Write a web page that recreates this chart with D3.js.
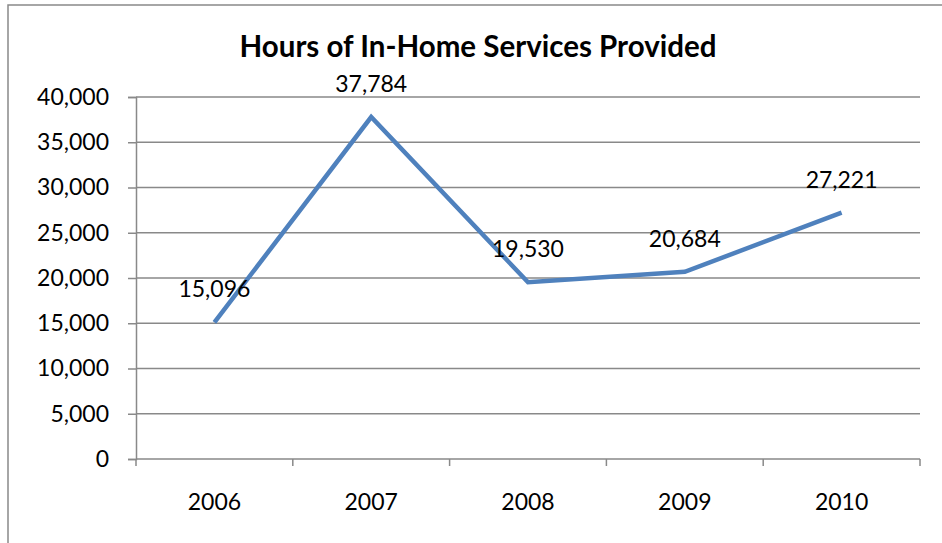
<!DOCTYPE html>
<html>
<head>
<meta charset="utf-8">
<script src="https://cdn.jsdelivr.net/npm/d3@7/dist/d3.min.js"></script>
<style>
  html, body { margin: 0; padding: 0; background: #fff; }
  svg { display: block; font-family: Lato, "Open Sans", "Liberation Sans", sans-serif; }
</style>
</head>
<body>
<svg id="chart" width="942" height="543"></svg>
<script>
const years = ["2006", "2007", "2008", "2009", "2010"];
const hours = [15096, 37784, 19530, 20684, 27221];
const yTicks = [0, 5000, 10000, 15000, 20000, 25000, 30000, 35000, 40000];
const title = "Hours of In-Home Services Provided";

const svg = d3.select("#chart");
const plot = { left: 136, right: 920, top: 97, bottom: 459 };
const grey = "#898989";
const fontSize = 23;

// outer frame
svg.append("rect")
  .attr("x", 8).attr("y", 5)
  .attr("width", 960).attr("height", 560)
  .attr("fill", "none").attr("stroke", grey).attr("stroke-width", 1.5);

const x = d3.scaleBand().domain(years).range([plot.left, plot.right]);
const y = d3.scaleLinear().domain([0, 40000]).range([plot.bottom, plot.top]);

// horizontal gridlines
svg.append("g").selectAll("line").data(yTicks.slice(1)).join("line")
  .attr("x1", plot.left).attr("x2", plot.right)
  .attr("y1", d => y(d)).attr("y2", d => y(d))
  .attr("stroke", grey).attr("stroke-width", 1.5);

// y axis
const yAxis = svg.append("g")
  .attr("transform", `translate(${plot.left},0)`)
  .call(d3.axisLeft(y).tickValues(yTicks).tickSize(8).tickPadding(19)
    .tickFormat(d3.format(",")));
yAxis.select(".domain").attr("stroke", grey).attr("stroke-width", 1.5);
yAxis.selectAll(".tick line").attr("stroke", grey).attr("stroke-width", 1.5);
yAxis.selectAll(".tick text").attr("font-size", fontSize).attr("fill", "#000")
  .attr("font-family", "Lato, 'Open Sans', sans-serif");

// x axis with ticks between categories
const xAxis = svg.append("g").attr("transform", `translate(0,${plot.bottom})`);
xAxis.append("line")
  .attr("x1", plot.left).attr("x2", plot.right)
  .attr("stroke", grey).attr("stroke-width", 1.5);
const edges = years.map(d => x(d)).concat([plot.right]);
xAxis.selectAll("line.tk").data(edges).join("line").attr("class", "tk")
  .attr("x1", d => d).attr("x2", d => d)
  .attr("y1", 0).attr("y2", 7)
  .attr("stroke", grey).attr("stroke-width", 1.5);
xAxis.selectAll("text").data(years).join("text")
  .attr("x", d => x(d) + x.bandwidth() / 2)
  .attr("y", 51)
  .attr("text-anchor", "middle")
  .attr("font-size", fontSize)
  .text(d => d);

// data line
const pts = years.map((yr, i) => [x(yr) + x.bandwidth() / 2, y(hours[i])]);
svg.append("path")
  .attr("d", d3.line()(pts))
  .attr("fill", "none")
  .attr("stroke", "#4F81BD")
  .attr("stroke-width", 4.5)
  .attr("stroke-linejoin", "miter");

// value labels
svg.append("g").selectAll("text").data(hours).join("text")
  .attr("x", (d, i) => pts[i][0])
  .attr("y", (d, i) => pts[i][1] - 25)
  .attr("text-anchor", "middle")
  .attr("font-size", fontSize)
  .text(d => d3.format(",")(d));

// title
svg.append("text")
  .attr("x", 478).attr("y", 57)
  .attr("text-anchor", "middle")
  .attr("font-size", 29.5).attr("font-weight", "bold")
  .text(title);
</script>
</body>
</html>
